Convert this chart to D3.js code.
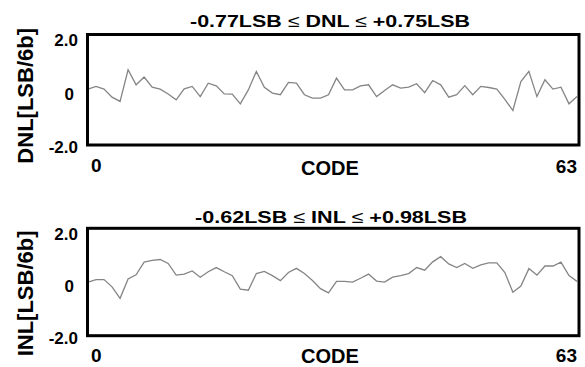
<!DOCTYPE html>
<html>
<head>
<meta charset="utf-8">
<script src="https://cdn.jsdelivr.net/npm/d3@7"></script>
<style>
  html, body { margin: 0; padding: 0; background: #fff; }
  svg { display: block; }
  text { font-family: "Liberation Sans", Arial, sans-serif; font-weight: bold; fill: #000; }
</style>
</head>
<body>
<svg id="chart" width="585" height="367"></svg>
<script>
// Measured codes (interior codes of the 6-bit converter)
const codes = d3.range(1, 63);

// Differential non-linearity per code [LSB]
const dnl = [
  0.03, 0.13, 0.03, -0.27, -0.43, 0.75, 0.19, 0.48, 0.10, 0.03,
  -0.15, -0.37, 0.04, 0.13, -0.25, 0.25, 0.15, -0.15, -0.16, -0.52,
  0.00, 0.69, 0.10, -0.12, -0.18, 0.28, 0.25, -0.18, -0.31, -0.31,
  -0.18, 0.44, 0.00, 0.00, 0.15, 0.19, -0.25, -0.02, 0.19, 0.07,
  0.10, 0.23, -0.10, 0.35, 0.19, -0.27, -0.18, 0.16, -0.18, 0.13,
  0.09, 0.03, -0.35, -0.77, 0.31, 0.69, -0.25, 0.38, 0.03, 0.10,
  -0.52, -0.25
];

// Integral non-linearity per code [LSB]
const inl = [
  0.00, 0.10, 0.10, -0.18, -0.62, 0.12, 0.28, 0.77, 0.84, 0.87,
  0.72, 0.27, 0.31, 0.43, 0.19, 0.40, 0.56, 0.40, 0.25, -0.27,
  -0.31, 0.33, 0.41, 0.25, 0.06, 0.37, 0.53, 0.33, 0.06, -0.25,
  -0.41, 0.03, 0.03, 0.00, 0.15, 0.31, 0.04, 0.00, 0.19, 0.25,
  0.33, 0.56, 0.46, 0.78, 0.98, 0.70, 0.56, 0.72, 0.53, 0.66,
  0.74, 0.74, 0.37, -0.39, -0.15, 0.52, 0.27, 0.62, 0.62, 0.77,
  0.25, 0.03
];

const yTicks = [2, 0, -2];
const yTickLabels = ["2.0", "0", "-2.0"];
const xEdgeLabels = ["0", "63"];
const xTitle = "CODE";

const panels = [
  { values: dnl, name: "DNL", ylabel: "DNL[LSB/6b]", lo: "-0.77LSB", hi: "+0.75LSB",
    top: 34.5, bottom: 145, titleY: 26.5, titleX0: 190, titleX1: 470, ylabelY: 95.8 },
  { values: inl, name: "INL", ylabel: "INL[LSB/6b]", lo: "-0.62LSB", hi: "+0.98LSB",
    top: 228.3, bottom: 335.7, titleY: 222.5, titleX0: 195, titleX1: 467, ylabelY: 293.4 }
];

const svg = d3.select("#chart");
const boxLeft = 87.5, boxRight = 579;
const x = d3.scaleLinear().domain([codes[0], codes[codes.length - 1]]).range([88, 577]);

panels.forEach((p, k) => {
  const y = d3.scaleLinear().domain([-2, 2]).range([p.bottom - 1.5, p.top + 1.8]);
  const g = svg.append("g");

  // trace
  const line = d3.line().x((d, i) => x(codes[i])).y(d => y(d));
  g.append("path")
    .datum(p.values)
    .attr("fill", "none")
    .attr("stroke", "#858585")
    .attr("stroke-width", 1.3)
    .attr("stroke-linejoin", "miter")
    .attr("d", line);

  // frame
  g.append("rect")
    .attr("x", boxLeft).attr("y", p.top)
    .attr("width", boxRight - boxLeft).attr("height", p.bottom - p.top)
    .attr("fill", "none").attr("stroke", "#000").attr("stroke-width", 3);

  // y axis labels
  const yAxis = d3.axisLeft(y)
    .tickValues(yTicks)
    .tickFormat((d, i) => yTickLabels[i])
    .tickSize(0)
    .tickPadding(3);
  const ya = g.append("g").attr("transform", `translate(81,0)`).call(yAxis);
  ya.select(".domain").remove();
  ya.selectAll("text")
    .attr("font-family", "Liberation Sans, Arial, sans-serif")
    .attr("font-weight", "bold")
    .attr("font-size", 17)
    .attr("fill", "#000")
    .attr("dx", d => (d === 0 ? -4 : 0))
    .attr("dy", "0.55em");

  // y title
  g.append("text")
    .attr("transform", `translate(33,${p.ylabelY}) rotate(-90)`)
    .attr("text-anchor", "middle")
    .attr("font-size", 22)
    .text(p.ylabel);

  // x edge labels and title
  const lift = k === 1 ? 1.2 : 0;
  g.append("text")
    .attr("x", x.range()[0] + 3).attr("y", p.bottom + 27 - lift)
    .attr("font-size", 19)
    .text(xEdgeLabels[0]);
  g.append("text")
    .attr("x", x.range()[1]).attr("y", p.bottom + 27.5 - lift)
    .attr("text-anchor", "end")
    .attr("font-size", 19)
    .text(xEdgeLabels[1]);
  g.append("text")
    .attr("x", 330).attr("y", p.bottom + 29.5 - 2 * lift)
    .attr("text-anchor", "middle")
    .attr("font-size", 20)
    .text(xTitle);

  // range title
  const t = g.append("text")
    .attr("x", p.titleX0).attr("y", p.titleY)
    .attr("font-size", 17)
    .attr("textLength", p.titleX1 - p.titleX0)
    .attr("lengthAdjust", "spacingAndGlyphs");
  t.append("tspan").text(p.lo + " ");
  t.append("tspan").attr("font-weight", "normal").text("\u2264");
  t.append("tspan").text(" " + p.name + " ");
  t.append("tspan").attr("font-weight", "normal").text("\u2264");
  t.append("tspan").text(" " + p.hi);
});
</script>
</body>
</html>
